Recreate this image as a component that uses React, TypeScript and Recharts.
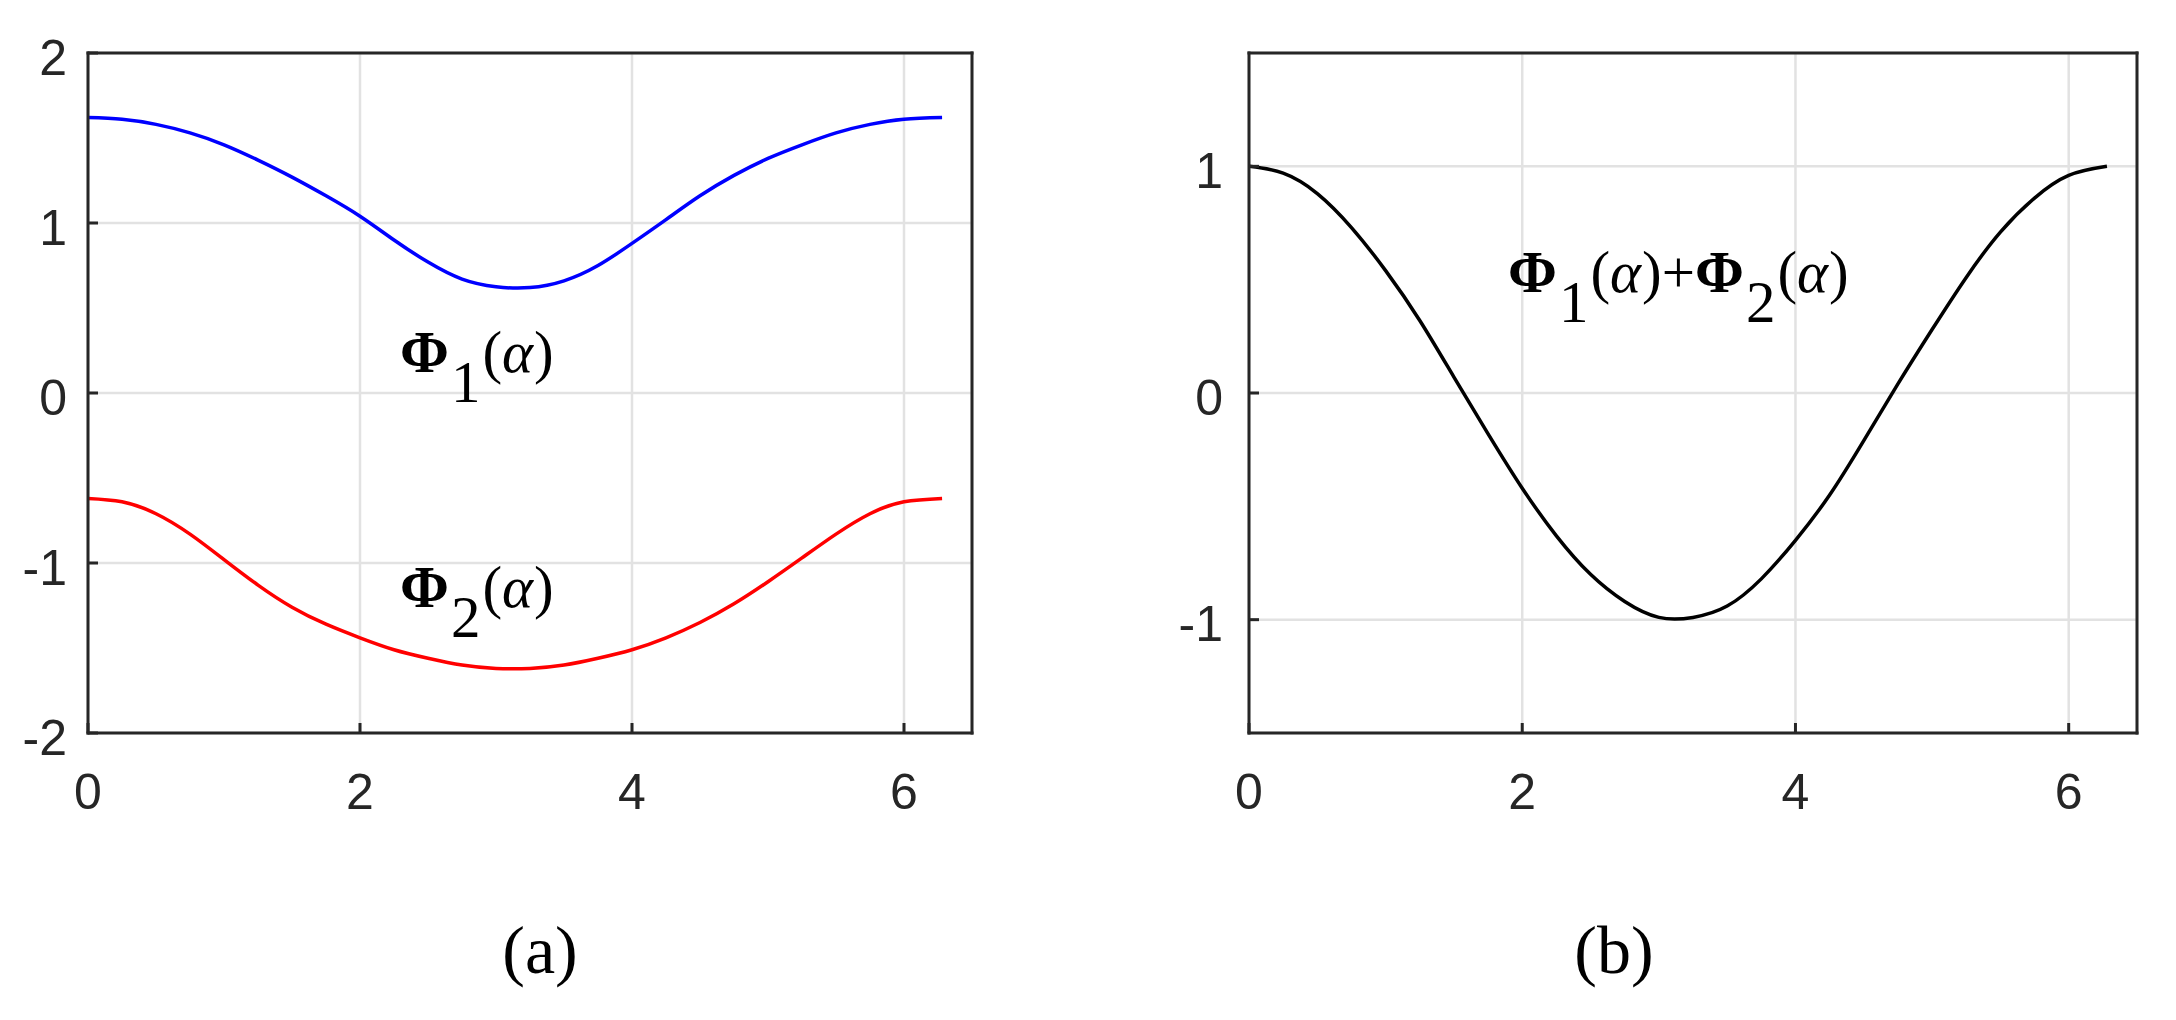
import React from "react"
import {
	CartesianGrid,
	Line,
	LineChart,
	XAxis,
	YAxis
} from "recharts"


// angle samples (rad)
const alpha = [
	0, 0.25, 0.5, 0.75, 1, 1.25, 1.5, 1.75, 2, 2.25, 2.5, 2.75, 3,
	3.25, 3.5, 3.75, 4, 4.25, 4.5, 4.75, 5, 5.25, 5.5, 5.75, 6, 6.28
]

// Phi_1, blue curve in (a)
const phi1 = [
	1.62, 1.61, 1.58, 1.53, 1.46, 1.37, 1.27, 1.16, 1.04, 0.9, 0.77, 0.67, 0.625,
	0.62, 0.66, 0.75, 0.88, 1.02, 1.16, 1.28, 1.38, 1.46, 1.53, 1.58, 1.61, 1.62
]

// Phi_2, red curve in (a)
const phi2 = [
	-0.62, -0.64, -0.71, -0.83, -0.98, -1.13, -1.26, -1.36, -1.44, -1.51, -1.56, -1.6, -1.62,
	-1.62, -1.6, -1.56, -1.51, -1.44, -1.35, -1.24, -1.11, -0.97, -0.83, -0.71, -0.64, -0.62
]

// Phi_1 + Phi_2, black curve in (b)
const phiSum = [
	1, 0.97, 0.88, 0.73, 0.54, 0.32, 0.07, -0.18, -0.42, -0.63, -0.8, -0.92, -0.99,
	-0.99, -0.94, -0.82, -0.65, -0.45, -0.21, 0.04, 0.28, 0.51, 0.71, 0.86, 0.96, 1
]

const xTicks = [0, 2, 4, 6]
const yTicksA = [-2, -1, 0, 1, 2]
const yTicksB = [-1, 0, 1]


const data = alpha.map((a, i) => ({
	a,
	phi1: phi1[i],
	phi2: phi2[i],
	sum: phiSum[i]
}))


const AXIS = "#262626"
const GRID = "#e2e2e2"
const tickFont = { fill: AXIS, fontSize: 50, fontFamily: "'Liberation Sans', Arial, sans-serif" }
const axisLine = { stroke: AXIS, strokeWidth: 3, strokeLinecap: "square" as const }
const tickLine = { stroke: AXIS, strokeWidth: 3 }


function Panel(
	{
		left,
		yDomain,
		yTicks,
		yWidth,
		rightMargin,
		yMargin,
		children
	}: {
		left: number
		yDomain: [number, number]
		yTicks: number[]
		yWidth: number
		rightMargin: number
		yMargin: number
		children: React.ReactNode
	}
) {
	return (
		<div style={{ position: "absolute", left, top: 0 }}>
			<LineChart
				width={1000}
				height={880}
				data={data}
				margin={{ top: 52, right: rightMargin - 1, bottom: 87, left: 0 }}
			>

				<CartesianGrid stroke={GRID} strokeWidth={2.5} />

				<XAxis
					dataKey="a"
					type="number"
					domain={[0, 6.5]}
					ticks={xTicks}
					height={60}
					tickSize={-10}
					tickMargin={50}
					tick={tickFont}
					tickLine={tickLine}
					axisLine={axisLine}
					allowDataOverflow
				/>
				<XAxis
					xAxisId="top"
					orientation="top"
					dataKey="a"
					type="number"
					domain={[0, 6.5]}
					ticks={xTicks}
					height={1}
					tickSize={-10}
					tick={false}
					tickLine={tickLine}
					axisLine={axisLine}
					allowDataOverflow
				/>

				<YAxis
					type="number"
					domain={yDomain}
					ticks={yTicks}
					width={yWidth}
					tickSize={-10}
					tickMargin={yMargin}
					tick={{ ...tickFont, dy: 4 }}
					tickLine={tickLine}
					axisLine={axisLine}
					allowDataOverflow
				/>
				<YAxis
					yAxisId="right"
					orientation="right"
					type="number"
					domain={yDomain}
					ticks={yTicks}
					width={1}
					tickSize={-10}
					tick={false}
					tickLine={tickLine}
					axisLine={axisLine}
					allowDataOverflow
				/>

				{children}

			</LineChart>
		</div>
	)
}


const serif = "'Liberation Serif', 'Times New Roman', serif"

function PhiLabel({ x, y, n }: { x: number; y: number; n: string }) {
	return (
		<>
			<tspan x={x} y={y} fontWeight="bold">Φ</tspan>
			<tspan dx={2} dy={30}>{n}</tspan>
			<tspan dx={2} dy={-30}>(</tspan>
			<tspan fontStyle="italic">α</tspan>
			<tspan dx={1}>)</tspan>
		</>
	)
}


export default function App() {
	return (
		<div
			style={{
				position: "absolute",
				left: 0,
				top: 0,
				width: 2176,
				height: 1020,
				background: "#fff",
				overflow: "hidden"
			}}
		>

			<Panel left={0} yDomain={[-2, 2]} yTicks={yTicksA} yWidth={88} rightMargin={28} yMargin={31}>
				<Line dataKey="phi1" type="natural" stroke="#0000ff" strokeWidth={3.5} dot={false} activeDot={false} isAnimationActive={false} />
				<Line dataKey="phi2" type="natural" stroke="#ff0000" strokeWidth={3.5} dot={false} activeDot={false} isAnimationActive={false} />
			</Panel>

			<Panel left={1160} yDomain={[-1.5, 1.5]} yTicks={yTicksB} yWidth={89} rightMargin={23} yMargin={36}>
				<Line dataKey="sum" type="natural" stroke="#000" strokeWidth={3.5} dot={false} activeDot={false} isAnimationActive={false} />
			</Panel>

			<svg
				width={2176}
				height={1020}
				style={{ position: "absolute", left: 0, top: 0, pointerEvents: "none" }}
				fontFamily={serif}
			>
				<text fontSize={59} fill="#000">
					<PhiLabel x={400} y={372} n="1" />
				</text>
				<text fontSize={59} fill="#000">
					<PhiLabel x={400} y={607} n="2" />
				</text>
				<text fontSize={59} fill="#000">
					<PhiLabel x={1508} y={292} n="1" />
					<tspan>+</tspan>
					<tspan fontWeight="bold">Φ</tspan>
					<tspan dx={2} dy={30}>2</tspan>
					<tspan dx={2} dy={-30}>(</tspan>
					<tspan fontStyle="italic">α</tspan>
					<tspan dx={1}>)</tspan>
				</text>

				<text x={540} y={973} fontSize={68} textAnchor="middle" fill="#000">(a)</text>
				<text x={1614} y={973} fontSize={68} textAnchor="middle" fill="#000">(b)</text>
			</svg>

		</div>
	)
}
